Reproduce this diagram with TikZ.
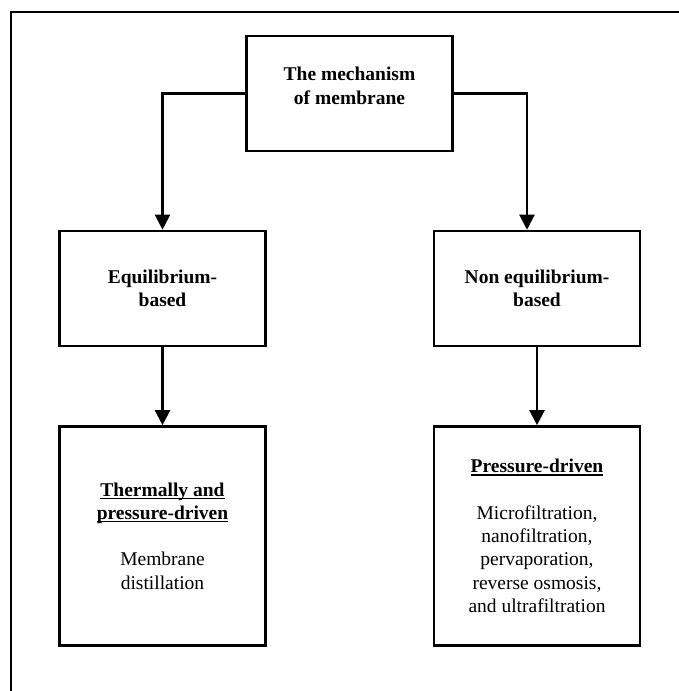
\documentclass[tikz,border=0pt]{standalone}
\usepackage{fontspec}
\setmainfont{Liberation Serif}
\usetikzlibrary{arrows.meta}
\newcommand\uword[1]{\setbox0\hbox{#1}\rlap{\rule[-2.8pt]{\wd0}{1.1pt}}\box0}
\begin{document}
\begin{tikzpicture}[x=1pt,y=-1pt,
  box/.style={draw,line width=2.6pt,minimum width=206pt,align=center,font=\fontsize{19.5}{23.3}\selectfont},
  link/.style={line width=2.2pt,-{Triangle[length=15pt,width=15pt]}}]
%\draw[step=10,gray,very thin] (0,0) grid (679,691); %background grid
\useasboundingbox (0,0) rectangle (679,691);
\draw[line width=2.2pt] (679,12) -| (11,691);
\node[box,minimum height=115pt] (mech) at (349.5,93.5) {\textbf{The mechanism}\\\textbf{of membrane}\\[-8pt]};
\node[box,minimum height=115pt] (equil) at (162.5,288.5) {\textbf{Equilibrium-}\\\textbf{based}};
\node[box,minimum height=115pt] (nonequil) at (537,288.5) {\textbf{Non equilibrium-}\\\textbf{based}};
\node[box,minimum height=219pt] (thermal) at (162.5,536) {\uword{\textbf{Thermally and}}\\\uword{\textbf{pressure-driven}}\\[23.3pt]Membrane\\distillation};
\node[box,minimum height=219pt] (pressure) at (537,536) {\uword{\textbf{Pressure-driven}}\\[23.3pt]Microfiltration,\\nanofiltration,\\pervaporation,\\reverse osmosis,\\and ultrafiltration};
\draw[link] (mech.west) -| (equil.north);
\draw[link] (mech.east) -| ([xshift=-10pt]nonequil.north);
\draw[link] (equil) -- (thermal);
\draw[link] (nonequil) -- (pressure);
\end{tikzpicture}
\end{document}
